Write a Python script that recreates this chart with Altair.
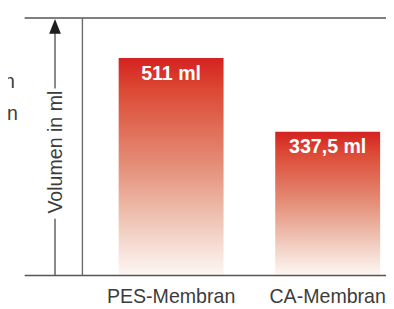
import altair as alt
import pandas as pd

# ---- data ----
categories = ["PES-Membran", "CA-Membran"]
volumes = [511, 337.5]
value_labels = ["511 ml", "337,5 ml"]
axis_title = "Volumen in ml"
side_texts = ["Volumen", "Filtration"]  # legend text cut off at the left edge

FONT = "Liberation Sans"
TXT = "#3c3c3c"
LINE = "#555555"

df = pd.DataFrame({"cat": categories, "vol": volumes, "lab": value_labels})
one = pd.DataFrame({"k": [0]})

W, H = 310, 263

x_scale = alt.Scale(domain=categories, range=[37, 304], paddingInner=0.33, paddingOuter=0)
y_scale = alt.Scale(domain=[0, 605], nice=False)

grad = {
    "gradient": "linear", "x1": 0, "y1": 0, "x2": 0, "y2": 1,
    "stops": [
        {"offset": 0, "color": "#d42220"},
        {"offset": 0.15, "color": "#dc4a35"},
        {"offset": 0.5, "color": "#e5907a"},
        {"offset": 0.8, "color": "#f2d0c3"},
        {"offset": 1, "color": "#fdf7f4"},
    ],
}

x_enc = alt.X("cat:N", scale=x_scale, sort=categories,
              axis=alt.Axis(title=None, domain=False, ticks=False, tickSize=0,
                            labelFontSize=20, labelFont=FONT, labelColor=TXT,
                            labelAngle=0, labelPadding=28, labelBaseline="alphabetic"))
y_enc = alt.Y("vol:Q", scale=y_scale, axis=None)

bars = alt.Chart(df).mark_bar(color=grad).encode(x=x_enc, y=y_enc)

bar_labels = alt.Chart(df).mark_text(
    font=FONT, fontSize=20, color="white", baseline="alphabetic", dy=22, fontWeight="bold"
).encode(x=x_enc, y=y_enc, text="lab:N")

rules = []
for (x1, x2, y1, col) in [
    (-59, W, 0, LINE),          # top line
    (-59, W, H, LINE),          # bottom line
]:
    rules.append(alt.Chart(one).mark_rule(color=col, strokeWidth=1.4).encode(
        x=alt.value(x1), x2=alt.value(x2), y=alt.value(y1)))
for (xx, y1, y2, col) in [
    (0, 0, H, "#6a6a6a"),            # vertical frame line
    (-28, 15, 72, LINE),             # arrow shaft upper
    (-28, 205, H, LINE),             # arrow shaft lower
]:
    rules.append(alt.Chart(one).mark_rule(color=col, strokeWidth=1.4).encode(
        x=alt.value(xx), y=alt.value(y1), y2=alt.value(y2)))

arrow = alt.Chart(one).mark_point(
    shape="M0,-1L0.8,1L-0.8,1Z", filled=True, size=225, color="#1e1e1e", opacity=1
).encode(x=alt.value(-28), y=alt.value(8.5))

ytitle = alt.Chart(one).mark_text(
    angle=270, align="center", baseline="alphabetic", font=FONT, fontSize=20, color=TXT
).encode(x=alt.value(-21), y=alt.value(137), text=alt.value(axis_title))

side1 = alt.Chart(one).mark_text(
    align="right", baseline="alphabetic", font=FONT, fontSize=20, color=TXT
).encode(x=alt.value(-69), y=alt.value(72), text=alt.value(side_texts[0]))
side2 = alt.Chart(one).mark_text(
    align="right", baseline="alphabetic", font=FONT, fontSize=20, color=TXT
).encode(x=alt.value(-66), y=alt.value(104), text=alt.value(side_texts[1]))

chart = alt.layer(bars, bar_labels, *rules, arrow, ytitle, side1, side2).properties(
    width=W, height=H,
    padding={"left": 76, "top": 7, "right": 0, "bottom": 31},
    autosize="none",
    background="white",
).configure_view(stroke=None)

chart.save("out.html", embed_options={"renderer": "svg", "actions": False})
